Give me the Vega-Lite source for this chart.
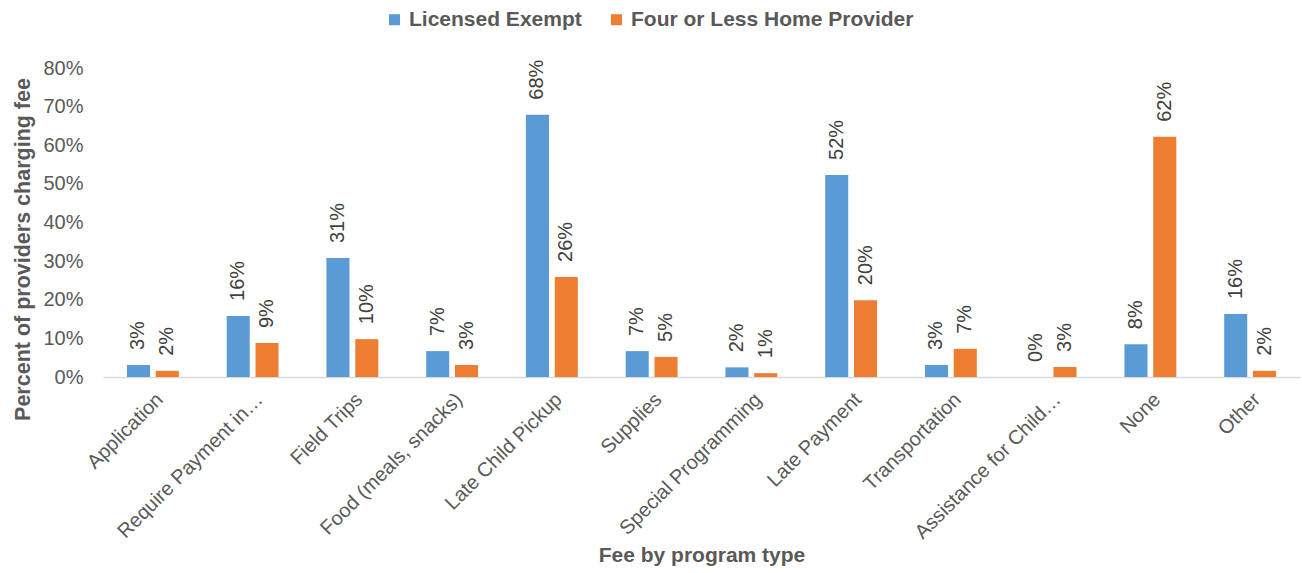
{
  "$schema": "https://vega.github.io/schema/vega-lite/v6.json",
  "width": 1197,
  "height": 309,
  "autosize": {"type": "none"},
  "padding": {"left": 103, "top": 68, "right": 2, "bottom": 196},
  "background": "white",
  "config": {"view": {"stroke": null}},
  "data": {
    "values": [
      {"fee": "Application", "type": "Licensed Exempt", "pct": 0.031, "label": "3%"},
      {"fee": "Application", "type": "Four or Less Home Provider", "pct": 0.016, "label": "2%"},
      {"fee": "Require Payment in…", "type": "Licensed Exempt", "pct": 0.158, "label": "16%"},
      {"fee": "Require Payment in…", "type": "Four or Less Home Provider", "pct": 0.088, "label": "9%"},
      {"fee": "Field Trips", "type": "Licensed Exempt", "pct": 0.308, "label": "31%"},
      {"fee": "Field Trips", "type": "Four or Less Home Provider", "pct": 0.098, "label": "10%"},
      {"fee": "Food (meals, snacks)", "type": "Licensed Exempt", "pct": 0.067, "label": "7%"},
      {"fee": "Food (meals, snacks)", "type": "Four or Less Home Provider", "pct": 0.031, "label": "3%"},
      {"fee": "Late Child Pickup", "type": "Licensed Exempt", "pct": 0.679, "label": "68%"},
      {"fee": "Late Child Pickup", "type": "Four or Less Home Provider", "pct": 0.259, "label": "26%"},
      {"fee": "Supplies", "type": "Licensed Exempt", "pct": 0.067, "label": "7%"},
      {"fee": "Supplies", "type": "Four or Less Home Provider", "pct": 0.052, "label": "5%"},
      {"fee": "Special Programming", "type": "Licensed Exempt", "pct": 0.025, "label": "2%"},
      {"fee": "Special Programming", "type": "Four or Less Home Provider", "pct": 0.010, "label": "1%"},
      {"fee": "Late Payment", "type": "Licensed Exempt", "pct": 0.523, "label": "52%"},
      {"fee": "Late Payment", "type": "Four or Less Home Provider", "pct": 0.199, "label": "20%"},
      {"fee": "Transportation", "type": "Licensed Exempt", "pct": 0.031, "label": "3%"},
      {"fee": "Transportation", "type": "Four or Less Home Provider", "pct": 0.073, "label": "7%"},
      {"fee": "Assistance for Child…", "type": "Licensed Exempt", "pct": 0.0, "label": "0%"},
      {"fee": "Assistance for Child…", "type": "Four or Less Home Provider", "pct": 0.026, "label": "3%"},
      {"fee": "None", "type": "Licensed Exempt", "pct": 0.085, "label": "8%"},
      {"fee": "None", "type": "Four or Less Home Provider", "pct": 0.622, "label": "62%"},
      {"fee": "Other", "type": "Licensed Exempt", "pct": 0.163, "label": "16%"},
      {"fee": "Other", "type": "Four or Less Home Provider", "pct": 0.016, "label": "2%"}
    ]
  },
  "encoding": {
    "x": {
      "field": "fee",
      "type": "nominal",
      "sort": null,
      "scale": {"paddingInner": 0.48, "paddingOuter": 0.24},
      "axis": {
        "title": "Fee by program type",
        "titleFont": "Liberation Sans",
        "titleFontSize": 21,
        "titleFontWeight": "bold",
        "titleColor": "#595959",
        "titlePadding": 2,
        "labelAngle": -45,
        "labelFont": "Liberation Sans",
        "labelFontSize": 20,
        "labelColor": "#595959",
        "labelLimit": 400,
        "labelPadding": 12,
        "labelOverlap": false,
        "ticks": false,
        "domainColor": "#D9D9D9",
        "domainWidth": 1.5
      }
    },
    "xOffset": {
      "field": "type",
      "type": "nominal",
      "sort": ["Licensed Exempt", "Four or Less Home Provider"],
      "scale": {"paddingInner": 0.2}
    },
    "y": {
      "field": "pct",
      "type": "quantitative",
      "scale": {"domain": [0, 0.8]},
      "axis": {
        "title": "Percent of providers charging fee",
        "titleFont": "Liberation Sans",
        "titleFontSize": 21.5,
        "titleFontWeight": "bold",
        "titleColor": "#595959",
        "titlePadding": 8,
        "titleY": 181,
        "format": ".0%",
        "values": [0, 0.1, 0.2, 0.3, 0.4, 0.5, 0.6, 0.7, 0.8],
        "labelOverlap": false,
        "labelFont": "Liberation Sans",
        "labelFontSize": 20,
        "labelColor": "#595959",
        "labelPadding": 20,
        "ticks": false,
        "domain": false,
        "grid": false
      }
    }
  },
  "layer": [
    {
      "mark": {"type": "bar"},
      "encoding": {
        "color": {
          "field": "type",
          "type": "nominal",
          "sort": ["Licensed Exempt", "Four or Less Home Provider"],
          "scale": {
            "domain": ["Licensed Exempt", "Four or Less Home Provider"],
            "range": ["#5B9BD5", "#ED7D31"]
          },
          "legend": {
            "title": null,
            "orient": "none",
            "direction": "horizontal",
            "legendX": 281,
            "legendY": -59,
            "symbolType": "square",
            "symbolSize": 121,
            "symbolStrokeWidth": 0,
            "labelFont": "Liberation Sans",
            "labelFontSize": 21,
            "labelFontWeight": "bold",
            "labelColor": "#595959",
            "labelOffset": 4,
            "columnPadding": 24,
            "labelLimit": 400
          }
        }
      }
    },
    {
      "mark": {
        "type": "text",
        "angle": 270,
        "align": "left",
        "baseline": "middle",
        "dx": 15,
        "font": "Liberation Sans",
        "fontSize": 20,
        "color": "#404040"
      },
      "encoding": {
        "text": {"field": "label", "type": "nominal"}
      }
    }
  ]
}
